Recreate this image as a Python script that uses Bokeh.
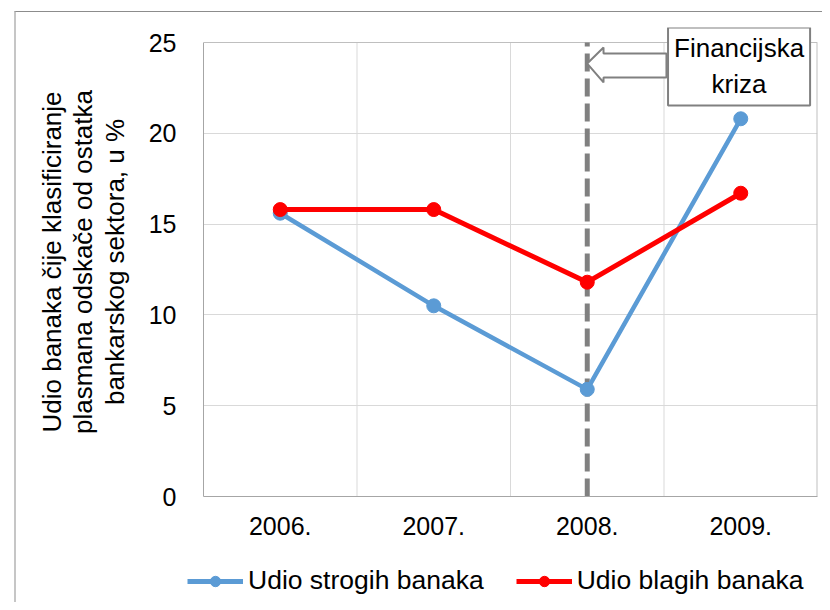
from bokeh.plotting import figure
from bokeh.layouts import column
from bokeh.models import (Label, Legend, LegendItem, FixedTicker, Range1d)
from bokeh.embed import file_html
from bokeh.resources import INLINE

# ---- data ----
years = ["2006.", "2007.", "2008.", "2009."]
strogi = [15.6, 10.5, 5.9, 20.8]      # Udio strogih banaka
blagi = [15.8, 15.8, 11.8, 16.7]      # Udio blagih banaka
y_ticks = [0, 5, 10, 15, 20, 25]
crisis_year = "2008."
callout_text = "Financijska\nkriza"
y_title = "Udio banaka čije klasificiranje\nplasmana odskače od ostatka\nbankarskog sektora, u %"
legend_labels = ["Udio strogih banaka", "Udio blagih banaka"]

FONT = "Liberation Sans"
BLUE = "#5b9bd5"
RED = "#ff0000"
GRID = "#d9d9d9"
xs = list(range(1, len(years) + 1))
y_max = y_ticks[-1]
top_room = 0.826          # extra headroom above the plot area for the callout box

p = figure(width=806, height=538, output_backend="svg", toolbar_location=None,
           x_range=Range1d(0.5, len(years) + 0.5), y_range=Range1d(0, y_max + top_room),
           min_border_left=187, min_border_right=5, min_border_top=15,
           min_border_bottom=54)
p.outline_line_color = None
p.xgrid.visible = False
p.ygrid.ticker = FixedTicker(ticks=y_ticks[1:-1])
p.ygrid.grid_line_color = GRID

# axes
p.xaxis.ticker = FixedTicker(ticks=xs)
p.xaxis.major_label_overrides = {x: y for x, y in zip(xs, years)}
p.yaxis.ticker = FixedTicker(ticks=y_ticks)
p.yaxis.bounds = (0, y_max)
for ax in (p.xaxis[0], p.yaxis[0]):
    ax.major_tick_line_color = None
    ax.minor_tick_line_color = None
    ax.axis_line_color = "#a6a6a6"
    ax.major_label_text_font = FONT
    ax.major_label_text_font_size = "25px"
    ax.major_label_text_color = "black"
p.xaxis.major_label_standoff = 14
p.yaxis.major_label_standoff = 21
p.yaxis.axis_label = y_title
p.yaxis.axis_label_text_font = FONT
p.yaxis.axis_label_text_font_size = "26px"
p.yaxis.axis_label_text_font_style = "normal"
p.yaxis.axis_label_text_color = "black"
p.yaxis.axis_label_text_line_height = 1.05
p.yaxis.axis_label_standoff = 16

# plot-area vertical gridlines (category boundaries) and top/right border
bounds_x = [x + 0.5 for x in xs[:-1]]
p.segment(x0=bounds_x, y0=[0] * len(bounds_x), x1=bounds_x, y1=[y_max] * len(bounds_x),
          line_color=GRID, line_width=1)
p.segment(x0=[0.5], y0=[y_max], x1=[len(years) + 0.5], y1=[y_max],
          line_color="#bfbfbf", line_width=1)
p.segment(x0=[len(years) + 0.5], y0=[0], x1=[len(years) + 0.5], y1=[y_max],
          line_color="#bfbfbf", line_width=2)

# crisis dashed line
cx = xs[years.index(crisis_year)]
p.segment(x0=[cx], y0=[0], x1=[cx], y1=[y_max], line_color="#808080",
          line_width=5, line_dash="18 7")

# callout arrow (pointing at crisis line)
arrow_x = [cx, cx + 0.106, cx + 0.106, cx + 0.516, cx + 0.516, cx + 0.106, cx + 0.106]
arrow_y = [23.84, 24.72, 24.39, 24.39, 23.07, 23.07, 22.80]
p.patch(arrow_x, arrow_y, fill_color="white", line_color="#808080", line_width=2)

# series
l1 = p.line(xs, strogi, line_color=BLUE, line_width=4.5)
s1 = p.scatter(xs, strogi, size=14, marker="circle", fill_color=BLUE, line_color=BLUE)
l2 = p.line(xs, blagi, line_color=RED, line_width=5)
s2 = p.scatter(xs, blagi, size=14, marker="circle", fill_color=RED, line_color=RED)

lab = Label(x=cx + 0.989, y=23.68, text=callout_text, text_align="center",
            text_baseline="middle", text_font=FONT, text_font_size="26px",
            text_color="black", background_fill_color="white",
            border_line_color="#808080", border_line_width=2, padding=6)
p.add_layout(lab)

# ---- legend strip below ----
q = figure(width=806, height=52, output_backend="svg", toolbar_location=None,
           x_axis_type=None, y_axis_type=None, min_border=0,
           x_range=Range1d(0, 1), y_range=Range1d(0, 1))
q.outline_line_color = None
q.grid.visible = False

aligned_off = False
try:
    p.frame_align = False
    q.frame_align = False
    aligned_off = True
except Exception:
    aligned_off = False

# legend swatches only (kept outside the visible range of the strip)
ql1 = q.line([-5, -4], [-5, -5], line_color=BLUE, line_width=5)
qs1 = q.scatter([-5], [-5], size=14, marker="circle", fill_color=BLUE, line_color=BLUE)
ql2 = q.line([-5, -4], [-5, -5], line_color=RED, line_width=5)
qs2 = q.scatter([-5], [-5], size=14, marker="circle", fill_color=RED, line_color=RED)

if aligned_off:
    loc, gw, sp = (171, 6), 56, 32
else:
    loc, gw, sp = (0, 6), 40, 47
legend = Legend(items=[LegendItem(label=legend_labels[0], renderers=[ql1, qs1]),
                       LegendItem(label=legend_labels[1], renderers=[ql2, qs2])],
                orientation="horizontal", location=loc,
                label_text_font=FONT, label_text_font_size="26.5px", label_text_color="black",
                glyph_width=gw, glyph_height=26, label_standoff=5, spacing=sp,
                border_line_color=None, background_fill_alpha=0, padding=0, margin=0)
q.add_layout(legend)

layout = column(p, q, spacing=0, margin=(11, 0, 0, 14),
                styles={"border-left": "2px solid #c6c6c6", "border-top": "1px solid #8c8c8c"})
open("out.html", "w").write(file_html(layout, INLINE))
